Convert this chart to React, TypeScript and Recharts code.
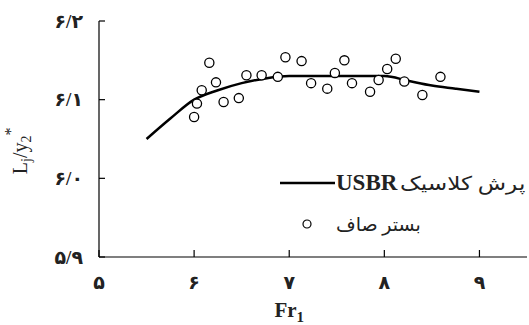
import {
  ComposedChart,
  Line,
  Scatter,
  XAxis,
  YAxis,
} from "recharts";

// Fr1 vs Lj/y2* — smooth bed points and the USBR classic jump curve
const frPoints = [
  6.0, 6.03, 6.08, 6.16, 6.23, 6.31, 6.47, 6.55, 6.71, 6.88, 6.96, 7.13,
  7.23, 7.4, 7.48, 7.58, 7.66, 7.85, 7.94, 8.03, 8.12, 8.21, 8.4, 8.59,
];
const ljPoints = [
  6.078, 6.095, 6.112, 6.147, 6.122, 6.097, 6.102, 6.131, 6.131, 6.129,
  6.154, 6.149, 6.121, 6.114, 6.134, 6.15, 6.121, 6.11, 6.125, 6.139, 6.152,
  6.123, 6.106, 6.129,
];

const frUsbr = [5.5, 5.75, 6.0, 6.25, 6.5, 6.75, 7.0, 7.5, 8.0, 8.25, 8.5, 8.75, 9.0];
const ljUsbr = [
  6.05, 6.076, 6.1, 6.112, 6.121, 6.127, 6.13, 6.13, 6.13, 6.124, 6.118,
  6.114, 6.11,
];

const xTicks = [5, 6, 7, 8, 9];
const yTicks = [5.9, 6.0, 6.1, 6.2];
const xTickLabels = ["۵", "۶", "۷", "۸", "۹"];
const yTickLabels = ["۵/۹", "۶/۰", "۶/۱", "۶/۲"];

const usbrName = "پرش کلاسیک";
const bedName = "بستر صاف";

const pointData = frPoints.map((x, i) => ({ x, y: ljPoints[i] }));
const lineData = frUsbr.map((x, i) => ({ x, y: ljUsbr[i] }));

const SERIF = "'Liberation Serif', 'DejaVu Sans', serif";

const YTick = (props: any) => {
  const { x, y, payload } = props;
  const idx = yTicks.findIndex((t) => Math.abs(t - payload.value) < 1e-6);
  return (
    <g>
      <line x1={x} y1={y} x2={x + 6} y2={y} stroke="#000" strokeWidth={1.2} />
      <text
        x={x - 16}
        y={y}
        textAnchor="end"
        dominantBaseline="central"
        fontFamily={SERIF}
        fontSize={19}
        fontWeight="bold"
        fill="#222"
      >
        {yTickLabels[idx]}
      </text>
    </g>
  );
};

const XTick = (props: any) => {
  const { x, y, payload } = props;
  const idx = xTicks.indexOf(payload.value);
  return (
    <g>
      <line x1={x} y1={y} x2={x} y2={y - 7} stroke="#000" strokeWidth={1.2} />
      <text
        x={x}
        y={y + 32}
        textAnchor="middle"
        fontFamily={SERIF}
        fontSize={19}
        fontWeight="bold"
        fill="#222"
      >
        {xTickLabels[idx]}
      </text>
    </g>
  );
};

const XLabel = (props: any) => {
  const { viewBox } = props;
  const cx = viewBox.x + (viewBox.width * 2) / 4.5;
  return (
    <text
      x={cx}
      y={viewBox.y + 60}
      textAnchor="middle"
      fontFamily={SERIF}
      fontSize={21}
      fontWeight="bold"
      fill="#222"
    >
      Fr
      <tspan fontSize={15} dy={5}>
        1
      </tspan>
    </text>
  );
};

const YLabel = (props: any) => {
  const { viewBox } = props;
  const cy = viewBox.y + viewBox.height * 0.55;
  const cx = 27;
  return (
    <text
      x={cx}
      y={cy}
      transform={`rotate(-90 ${cx} ${cy})`}
      textAnchor="middle"
      fontFamily={SERIF}
      fontSize={20}
      fill="#222"
    >
      L
      <tspan fontSize={14} dy={4}>
        j
      </tspan>
      <tspan dy={-4}>/y</tspan>
      <tspan fontSize={14} dy={4}>
        2
      </tspan>
      <tspan fontSize={16} dy={-15}>
        *
      </tspan>
    </text>
  );
};

const LegendBox = () => (
  <div
    style={{
      position: "absolute",
      left: 280,
      top: 167,
      width: 249,
      fontFamily: SERIF,
      color: "#222",
      whiteSpace: "nowrap",
    }}
  >
    <div style={{ display: "flex", alignItems: "center", height: 32 }}>
      <svg width={56} height={10} style={{ flexShrink: 0 }}>
        <line x1={0} y1={5} x2={55} y2={5} stroke="#000" strokeWidth={2.5} />
      </svg>
      <span style={{ fontSize: 23, fontWeight: "bold", flexShrink: 0 }}>USBR</span>
      <span
        dir="rtl"
        style={{
          fontSize: 19,
          flexShrink: 0,
          display: "inline-block",
          transform: "scaleX(1.22)",
          transformOrigin: "left center",
          marginLeft: 3,
        }}
      >
        {usbrName}
      </span>
    </div>
    <div style={{ display: "flex", alignItems: "center", height: 32, marginTop: 9 }}>
      <svg width={56} height={12} style={{ flexShrink: 0 }}>
        <circle cx={27} cy={6} r={4} fill="#fff" stroke="#000" strokeWidth={1.2} />
      </svg>
      <span style={{ fontSize: 19 }} dir="rtl">
        {bedName}
      </span>
    </div>
  </div>
);

export default function App() {
  return (
    <div
      style={{
        position: "absolute",
        left: 0,
        top: 0,
        width: 529,
        height: 325,
        background: "#fff",
      }}
    >
      <ComposedChart
        width={529}
        height={325}
        margin={{ top: 21, right: 2, bottom: 0, left: 0 }}
      >
        <XAxis
          type="number"
          dataKey="x"
          domain={[5, 9.5]}
          ticks={xTicks}
          allowDataOverflow
          height={68}
          tickSize={0}
          tickMargin={0}
          tickLine={false}
          tick={<XTick />}
          axisLine={{ stroke: "#000", strokeWidth: 1.2 }}
          label={<XLabel />}
        />
        <YAxis
          type="number"
          dataKey="y"
          domain={[5.9, 6.2]}
          ticks={yTicks}
          allowDataOverflow
          width={99}
          tickSize={0}
          tickMargin={0}
          tickLine={false}
          tick={<YTick />}
          axisLine={{ stroke: "#000", strokeWidth: 1.2 }}
          label={<YLabel />}
        />
        <Line
          data={lineData}
          dataKey="y"
          type="monotone"
          stroke="#000"
          strokeWidth={2.5}
          dot={false}
          isAnimationActive={false}
        />
        <Scatter
          data={pointData}
          dataKey="y"
          fill="#fff"
          stroke="#000"
          strokeWidth={1.3}
          shape={(p: any) => (
            <circle cx={p.cx} cy={p.cy} r={4.6} fill="#fff" stroke="#000" strokeWidth={1.3} />
          )}
          isAnimationActive={false}
        />
      </ComposedChart>
      <LegendBox />
    </div>
  );
}
